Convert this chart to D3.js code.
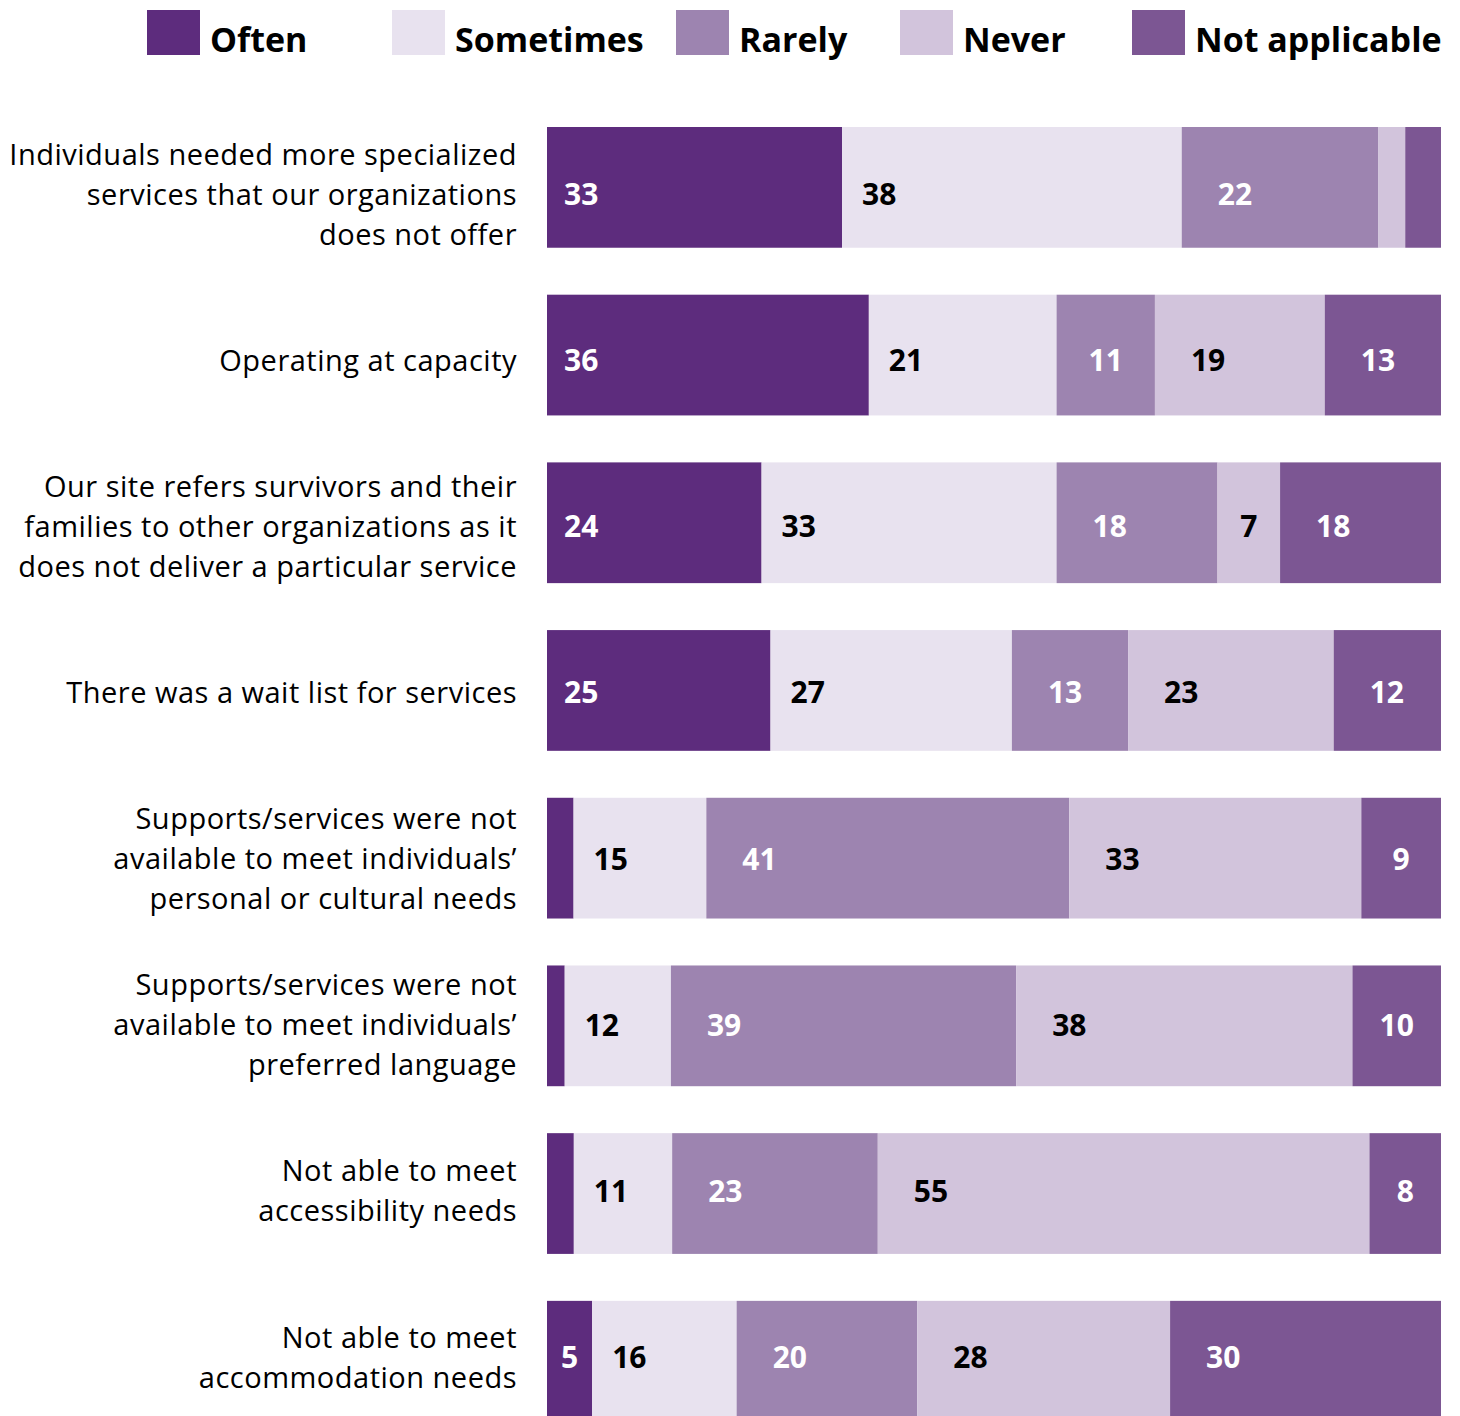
<!DOCTYPE html>
<html>
<head>
<meta charset="utf-8">
<script src="https://cdn.jsdelivr.net/npm/d3@7"></script>
<style>
  html, body { margin: 0; padding: 0; background: #fff; }
  svg { display: block; font-family: "Open Sans", Lato, sans-serif; }
</style>
</head>
<body>
<svg id="chart" width="1460" height="1416"></svg>
<script>
// Survey response categories (stack order, left to right)
const responses = ["Often", "Sometimes", "Rarely", "Never", "Not applicable"];

// Statements, each split into display lines
const statements = [
  ["Individuals needed more specialized", "services that our organizations", "does not offer"],
  ["Operating at capacity"],
  ["Our site refers survivors and their", "families to other organizations as it", "does not deliver a particular service"],
  ["There was a wait list for services"],
  ["Supports/services were not", "available to meet individuals\u2019", "personal or cultural needs"],
  ["Supports/services were not", "available to meet individuals\u2019", "preferred language"],
  ["Not able to meet", "accessibility needs"],
  ["Not able to meet", "accommodation needs"]
];

// Percent of respondents per response, one array per response category
const often         = [33, 36, 24, 25, 3, 2, 3, 5];
const sometimes     = [38, 21, 33, 27, 15, 12, 11, 16];
const rarely        = [22, 11, 18, 13, 41, 39, 23, 20];
const never         = [3, 19, 7, 23, 33, 38, 55, 28];
const notApplicable = [4, 13, 18, 12, 9, 10, 8, 30];

const colors = ["#5d2c7d", "#e8e2ef", "#9d84b0", "#d2c4dc", "#7c5693"];
const labelColors = ["#fff", "#000", "#fff", "#000", "#fff"];
// Left inset of value labels within their segment, per response
const labelInset = [17, 20, 36, 36, 36];

// Build rows: each row normalised to its own total so the bar spans the full width
const series = [often, sometimes, rarely, never, notApplicable];
const rows = statements.map((s, i) => {
  const vals = series.map(arr => arr[i]);
  const total = d3.sum(vals);
  let cum = 0;
  const segs = vals.map((v, k) => {
    const seg = { key: responses[k], k, value: v, x0: cum / total, x1: (cum + v) / total };
    cum += v;
    return seg;
  });
  return { id: i, lines: s, segs };
});

const svg = d3.select("#chart");

// Layout
const barLeft = 547, barRight = 1441;
const x = d3.scaleLinear().domain([0, 1]).range([barLeft, barRight]);
const y = d3.scaleBand()
  .domain(rows.map(r => r.id))
  .range([127, 1421.6])
  .paddingInner(0.28)
  .paddingOuter(0);
// Vertical centre line of each row's text
const textY = d3.scalePoint()
  .domain(rows.map(r => r.id))
  .range([194, 1357]);

// Legend
const legendX = [147, 392, 676, 900, 1132];
const legend = svg.append("g").attr("class", "legend");
responses.forEach((r, k) => {
  const g = legend.append("g").attr("transform", `translate(${legendX[k]},10)`);
  g.append("rect").attr("width", 53).attr("height", 45).attr("fill", colors[k]);
  g.append("text")
    .attr("x", 63).attr("y", 42)
    .attr("font-size", 34).attr("font-weight", 700)
    .attr("fill", "#000")
    .text(r);
});

// Statement labels, right aligned against the bars
const labelG = svg.append("g").attr("class", "statements");
rows.forEach(r => {
  const cy = textY(r.id);
  const lh = 40;
  const n = r.lines.length;
  const t = labelG.append("text")
    .attr("text-anchor", "end")
    .attr("font-size", 29)
    .attr("letter-spacing", 0.5)
    .attr("fill", "#000");
  r.lines.forEach((ln, j) => {
    t.append("tspan")
      .attr("x", 517)
      .attr("y", cy + (j - (n - 1) / 2) * lh + 10.5)
      .text(ln);
  });
});

// Stacked bars
const rowG = svg.append("g").attr("class", "bars")
  .selectAll("g.row").data(rows).join("g")
  .attr("class", "row");

rowG.selectAll("rect").data(d => d.segs.map(s => ({ ...s, row: d.id }))).join("rect")
  .attr("x", d => x(d.x0))
  .attr("y", d => y(d.row))
  .attr("width", d => x(d.x1) - x(d.x0))
  .attr("height", y.bandwidth())
  .attr("fill", d => colors[d.k]);

// Value labels (shown for segments of 5% or more)
rowG.selectAll("text")
  .data(d => d.segs.filter(s => s.value >= 5).map(s => ({ ...s, row: d.id })))
  .join("text")
  .attr("y", d => textY(d.row) + 11)
  .attr("font-size", 30)
  .attr("font-weight", 700)
  .attr("fill", d => labelColors[d.k])
  .text(d => d.value)
  .each(function(d) {
    const tw = this.getComputedTextLength();
    const w = x(d.x1) - x(d.x0);
    const pad = Math.min(labelInset[d.k], (w - tw) / 2);
    d3.select(this).attr("x", x(d.x0) + pad);
  });
</script>
</body>
</html>
